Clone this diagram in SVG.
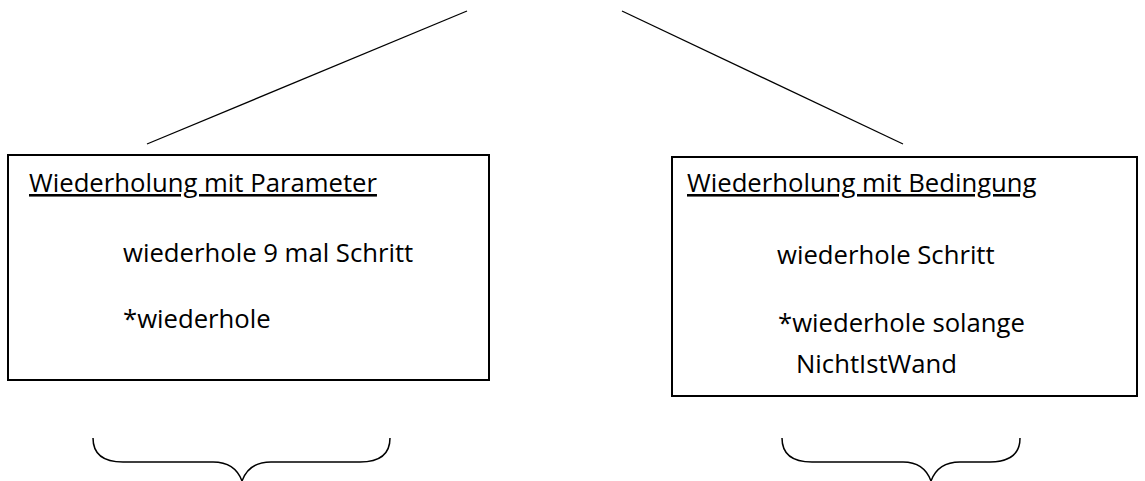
<svg xmlns="http://www.w3.org/2000/svg" width="1145" height="481" viewBox="0 0 1145 481">
<style>
.box{fill:#fff;stroke:#000;stroke-width:2}
.ln{fill:none;stroke:#000;stroke-width:1.3}
.br{fill:none;stroke:#000;stroke-width:1.5}
text{font-family:"Open Sans","Liberation Sans",sans-serif;font-size:25.7px;fill:#000}
.u{text-decoration:underline}
</style>
<rect width="1145" height="481" fill="#fff"/>
<g id="connectors">
<line class="ln" x1="147" y1="144" x2="467" y2="11"/>
<line class="ln" x1="622" y1="11" x2="903" y2="144"/>
<path class="br" d="M93,438 Q93,462 123,462 L213,462 Q235,462 242,481 Q249,462 271,462 L360,462 Q390,462 390,438"/>
<path class="br" d="M782,438 Q782,462 812,462 L903,462 Q924,462 931,481 Q938,462 960,462 L990,462 Q1020,462 1020,438"/>
</g>
<g id="node-parameter">
<rect class="box" x="8" y="155" width="481" height="225"/>
<text class="u" x="29" y="192">Wiederholung mit Parameter</text>
<text x="123" y="262">wiederhole 9 mal Schritt</text>
<text x="123" y="328">*wiederhole</text>
</g>
<g id="node-bedingung">
<rect class="box" x="672" y="157" width="465" height="239"/>
<text class="u" x="687" y="192">Wiederholung mit Bedingung</text>
<text x="777" y="264">wiederhole Schritt</text>
<text x="778" y="332">*wiederhole solange</text>
<text x="796" y="373">NichtIstWand</text>
</g>
</svg>
